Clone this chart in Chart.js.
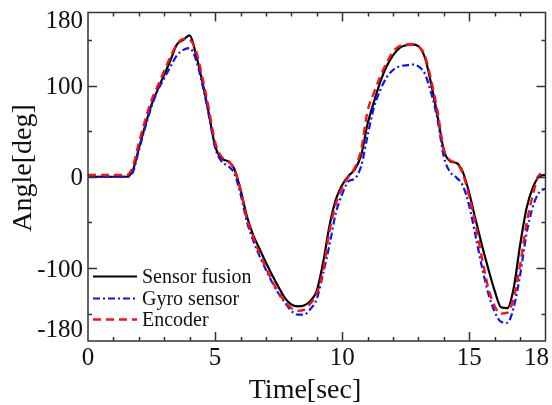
<!DOCTYPE html>
<html>
<head>
<meta charset="utf-8">
<script src="https://cdn.jsdelivr.net/npm/chart.js@4.4.0/dist/chart.umd.min.js"></script>
<style>
  html, body { margin: 0; padding: 0; background: #fff; }
  #c { display: block; }
</style>
</head>
<body>
<canvas id="c" width="552" height="405"></canvas>
<script>
// time axis [sec]
const times = [
  0, 0.25, 0.5, 0.75, 1, 1.25, 1.5, 1.75, 2, 2.25, 2.5, 2.75,
  3, 3.25, 3.5, 3.75, 4, 4.25, 4.5, 4.75, 5, 5.25, 5.5, 5.75,
  6, 6.25, 6.5, 6.75, 7, 7.25, 7.5, 7.75, 8, 8.25, 8.5, 8.75,
  9, 9.25, 9.5, 9.75, 10, 10.25, 10.5, 10.75, 11, 11.25, 11.5, 11.75,
  12, 12.25, 12.5, 12.75, 13, 13.25, 13.5, 13.75, 14, 14.25, 14.5, 14.75,
  15, 15.25, 15.5, 15.75, 16, 16.25, 16.5, 16.75, 17, 17.25, 17.5, 17.75, 18
];

// angle [deg]
const sensorFusion = [
  0, 0, 0, 0, 0, 0, 0, 6, 31, 56, 79, 96,
  112, 128, 145, 150, 155, 134, 104, 70, 34, 20, 17, 9,
  -14, -43, -64, -79, -94, -108, -121, -133, -140, -142, -141, -136,
  -125, -94, -54, -25, -9, 1, 8, 24, 58, 82, 104, 121,
  133, 141, 144, 145, 143, 131, 102, 67, 29, 17, 15, 5,
  -18, -47, -75, -101, -125, -143, -144, -122, -75, -35, -12, 0, 2
];
const gyroSensor = [
  0, 0, 0, 0, 0, 0, 0, 4, 29, 54, 77, 95,
  108, 121, 133, 139, 141, 128, 101, 68, 32, 17, 12, 4,
  -19, -49, -70, -87, -102, -116, -128, -138, -147, -151, -151, -145,
  -134, -106, -75, -40, -19, -5, -2, 12, 45, 76, 95, 109,
  117, 121, 122, 123, 121, 113, 92, 63, 22, 5, -1, -10,
  -32, -65, -99, -128, -148, -159, -160, -143, -108, -63, -33, -17, -13
];
const encoder = [
  2, 2, 2, 2, 2, 2, 2, 10, 37, 62, 84, 100,
  116, 132, 145, 151, 150, 138, 109, 75, 38, 22, 18, 8,
  -14, -46, -66, -84, -100, -114, -127, -137, -144, -147, -146, -139,
  -128, -103, -60, -30, -12, 0, 10, 30, 72, 92, 110, 125,
  137, 143, 145, 145, 143, 133, 106, 72, 30, 18, 15, 3,
  -22, -52, -89, -122, -142, -150, -149, -133, -97, -52, -20, 2, 4
];

const xTickLabels = [0, 5, 10, 15, 18];
const yTickLabels = [180, 100, 0, -100, -180];
const xMinorTicks = [1, 2, 3, 4, 5, 6, 7, 8, 9, 10, 11, 12, 13, 14, 15, 16, 17];
const xMajorTicks = [5, 10, 15];
const yMinorTicks = [-150, -100, -50, 0, 50, 100, 150];
const yMajorTicks = [-100, 0, 100];

const toXY = arr => arr.map((v, i) => ({ x: times[i], y: v }));

const FONT = '"Liberation Serif", "Times New Roman", serif';

// 枠・目盛り・ラベル・凡例を自前で描く
const framePlugin = {
  id: 'frame',
  afterDatasetsDraw(chart) {
    const { ctx, chartArea: a, scales: { x, y } } = chart;
    ctx.save();
    ctx.strokeStyle = '#333';
    ctx.lineWidth = 1.5;
    ctx.strokeRect(a.left, a.top, a.right - a.left, a.bottom - a.top);
    ctx.beginPath();
    xMinorTicks.forEach(v => {
      const px = Math.round(x.getPixelForValue(v)) + 0.5;
      const len = xMajorTicks.includes(v) ? 9 : 4;
      ctx.moveTo(px, a.bottom); ctx.lineTo(px, a.bottom - len);
      ctx.moveTo(px, a.top); ctx.lineTo(px, a.top + len);
    });
    yMinorTicks.forEach(v => {
      const py = Math.round(y.getPixelForValue(v)) + 0.5;
      const len = yMajorTicks.includes(v) ? 9 : 4;
      ctx.moveTo(a.left, py); ctx.lineTo(a.left + len, py);
      ctx.moveTo(a.right, py); ctx.lineTo(a.right - len, py);
    });
    ctx.stroke();

    // 目盛りラベル
    ctx.fillStyle = '#111';
    ctx.font = '25px ' + FONT;
    ctx.textAlign = 'right';
    ctx.textBaseline = 'alphabetic';
    yTickLabels.forEach(v => {
      let py = y.getPixelForValue(v);
      if (v === 180) py += 6.5;
      if (v === -180) py -= 13;
      ctx.fillText(String(v), 83, py + 8.5);
    });
    ctx.textAlign = 'center';
    xTickLabels.forEach(v => {
      let px = x.getPixelForValue(v);
      if (v === 18) px -= 9;
      ctx.fillText(String(v), px, a.bottom + 24);
    });

    // 軸タイトル
    ctx.font = '28px ' + FONT;
    ctx.fillText('Time[sec]', 305, 398);
    ctx.save();
    ctx.translate(31, 168);
    ctx.rotate(-Math.PI / 2);
    ctx.fillText('Angle[deg]', 0, 0);
    ctx.restore();

    // 凡例
    const rows = [276, 298, 319];
    ctx.font = '20px ' + FONT;
    ctx.textAlign = 'left';
    chart.data.datasets.forEach((ds, i) => {
      const ly = rows[i] + 0.5;
      ctx.save();
      ctx.strokeStyle = ds.borderColor;
      ctx.lineWidth = ds.borderWidth;
      ctx.setLineDash(ds.borderDash || []);
      ctx.beginPath();
      ctx.moveTo(93, ly); ctx.lineTo(137, ly);
      ctx.stroke();
      ctx.restore();
      ctx.fillStyle = '#111';
      ctx.fillText(ds.label, 142, rows[i] + 7);
    });
    ctx.restore();
  }
};

new Chart(document.getElementById('c'), {
  type: 'line',
  data: {
    datasets: [
      { label: 'Sensor fusion', data: toXY(sensorFusion), borderColor: '#000', borderWidth: 2.2, order: 3 },
      { label: 'Gyro sensor', data: toXY(gyroSensor), borderColor: '#1010ff', borderWidth: 2.2, borderDash: [7, 3, 2, 3], order: 2 },
      { label: 'Encoder', data: toXY(encoder), borderColor: '#ff1010', borderWidth: 2.4, borderDash: [8, 5], order: 1 }
    ]
  },
  options: {
    responsive: false,
    animation: false,
    devicePixelRatio: 1,
    layout: { padding: { left: 88, top: 12.5, right: 6.5, bottom: 64 } },
    elements: {
      point: { radius: 0 },
      line: { cubicInterpolationMode: 'monotone', fill: false }
    },
    plugins: { legend: { display: false }, tooltip: { enabled: false } },
    scales: {
      x: { type: 'linear', min: 0, max: 18, display: false },
      y: { type: 'linear', min: -180, max: 180, display: false }
    }
  },
  plugins: [framePlugin]
});
</script>
</body>
</html>
